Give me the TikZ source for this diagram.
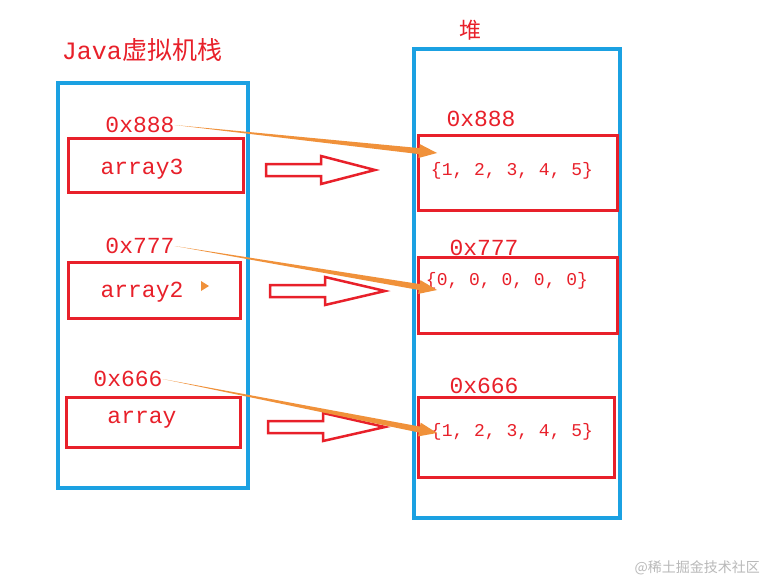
\documentclass[tikz,border=0pt]{standalone}
\usepackage{fontspec}
\setmainfont{Liberation Mono}
\newfontfamily\cjk{Noto Sans CJK SC}
\usetikzlibrary{calc}
\definecolor{rd}{HTML}{E8202A}
\definecolor{bl}{HTML}{1BA1E2}
\definecolor{og}{HTML}{F0913A}
\tikzset{
 frame/.style={draw=bl,line width=3.5pt},
 cell/.style={draw=rd,line width=3pt},
 lbl/.style={text=rd,font=\fontsize{23}{23}\selectfont,inner sep=0pt},
 val/.style={text=rd,font=\fontsize{18}{18}\selectfont,inner sep=0pt},
 hollow/.style={draw=rd,line width=2.5pt,line join=miter}
}
\newcommand\hol[3]{% x1 x2 y
 \draw[hollow] (#1,#3-6) -- (#1+55,#3-6) -- (#1+55,#3-14) -- (#2,#3) -- (#1+55,#3+14) -- (#1+55,#3+6) -- (#1,#3+6) -- cycle;}
\newcommand\taper[2]{%
 \fill[og] (#1) -- ($($(#2)!18pt!(#1)$)!3pt!90:(#2)$) -- ($($(#2)!18pt!(#1)$)!7pt!90:(#2)$) -- (#2) -- ($($(#2)!18pt!(#1)$)!7pt!-90:(#2)$) -- ($($(#2)!18pt!(#1)$)!3pt!-90:(#2)$) -- cycle;}
\begin{document}
\begin{tikzpicture}[x=1pt,y=-1pt]
\useasboundingbox (0,0) rectangle (765,583);
\fill[white] (0,0) rectangle (765,583);
\node[lbl,font=\fontsize{25}{25}\selectfont] (t1) at (142,50) {Java{\cjk 虚拟机栈}};
\node[lbl,font=\fontsize{22}{22}\cjk] (t2) at (470,30) {堆};
\draw[frame] (58,83) rectangle (248,488);
\draw[frame] (414,49) rectangle (620,518);
\draw[cell] (68,138) rectangle (243,192);
\draw[cell] (68,262) rectangle (240,318);
\draw[cell] (66,397) rectangle (240,447);
\draw[cell] (418,135) rectangle (617,210);
\draw[cell] (418,257) rectangle (617,333);
\draw[cell] (418,397) rectangle (614,477);
\node[lbl] (a3) at (142,169) {array3};
\node[lbl] (a2) at (142,292) {array2};
\node[lbl] (a1) at (142,420) {array};
\node[lbl] (s8) at (140,125) {0x888};
\node[lbl] (s7) at (140,246) {0x777};
\node[lbl] (s6) at (128,379) {0x666};
\node[lbl] (h8) at (481,119) {0x888};
\node[lbl] (h7) at (484,248) {0x777};
\node[lbl] (h6) at (484,386) {0x666};
\node[val] (v1) at (512,171) {\{1, 2, 3, 4, 5\}};
\node[val] (v2) at (507,281) {\{0, 0, 0, 0, 0\}};
\node[val] (v3) at (512,432) {\{1, 2, 3, 4, 5\}};
\hol{266}{375}{170}
\hol{270}{385}{291}
\hol{268}{385}{427}
\coordinate (e8) at (437,153);
\coordinate (e7) at (437,290);
\coordinate (e6) at (437,433);
\taper{s8.east}{e8}
\taper{s7.east}{e7}
\taper{s6.east}{e6}
\fill[og] (201,281) -- (209,286) -- (201,291) -- cycle;
\node[text=gray!55,font=\fontsize{14}{14}\cjk,inner sep=0pt,anchor=east] (wm) at (760,568) {@稀土掘金技术社区};
\end{tikzpicture}
\end{document}
